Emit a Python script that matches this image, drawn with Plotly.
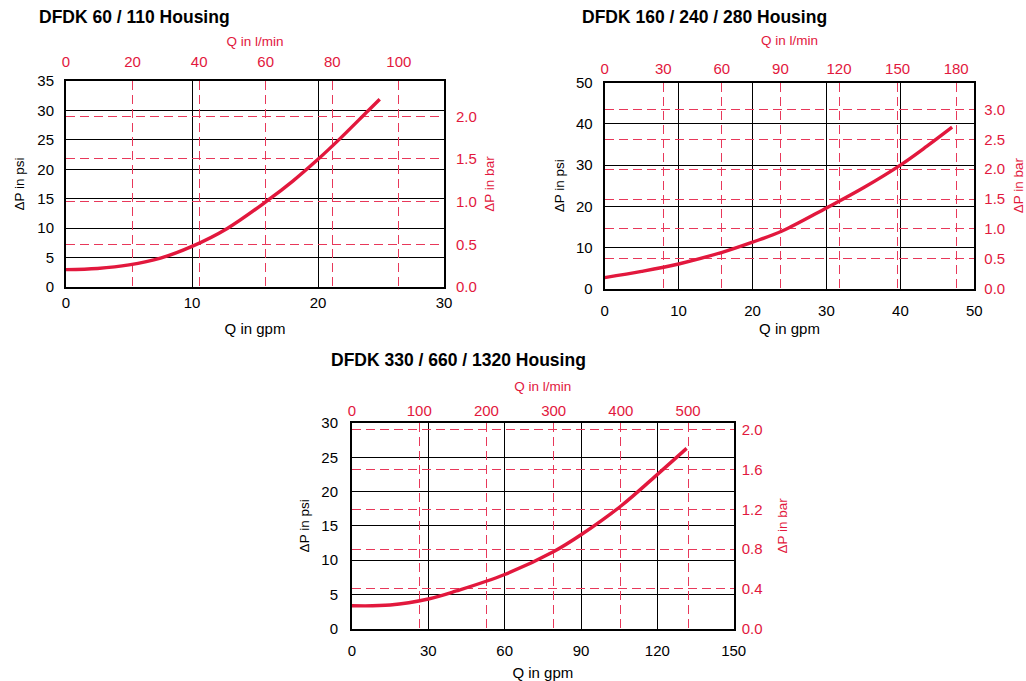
import plotly.graph_objects as go

# ---------------- data ----------------
GPM_TO_LPM = 3.78541
PSI_TO_BAR = 0.0689476

TITLES = ["DFDK 60 / 110 Housing", "DFDK 160 / 240 / 280 Housing", "DFDK 330 / 660 / 1320 Housing"]

# Chart 1: DFDK 60 / 110
GPM_1 = [0, 2.5, 5, 7.5, 10, 12.8, 16, 18, 20, 21.5, 24, 24.9]
PSI_1 = [2.95, 3.15, 3.75, 4.9, 6.9, 9.95, 14.7, 18.0, 21.7, 24.7, 30.0, 31.9]
GPM_TICKS_1 = [0, 10, 20, 30]
PSI_TICKS_1 = [0, 5, 10, 15, 20, 25, 30, 35]
LPM_TICKS_1 = [0, 20, 40, 60, 80, 100]
BAR_TICKS_1 = [0.0, 0.5, 1.0, 1.5, 2.0]

# Chart 2: DFDK 160 / 240 / 280
GPM_2 = [0, 5, 10, 16, 20, 24, 30, 35, 40, 43.6, 47]
PSI_2 = [2.7, 4.2, 6.0, 8.9, 11.3, 14.0, 19.6, 24.5, 30.0, 34.6, 39.2]
GPM_TICKS_2 = [0, 10, 20, 30, 40, 50]
PSI_TICKS_2 = [0, 10, 20, 30, 40, 50]
LPM_TICKS_2 = [0, 30, 60, 90, 120, 150, 180]
BAR_TICKS_2 = [0.0, 0.5, 1.0, 1.5, 2.0, 2.5, 3.0]

# Chart 3: DFDK 330 / 660 / 1320
GPM_3 = [0, 15, 30, 41, 60, 79.5, 90, 105.7, 119.7, 131.5]
PSI_3 = [3.35, 3.45, 4.33, 5.5, 7.9, 11.3, 13.7, 17.9, 22.4, 26.3]
GPM_TICKS_3 = [0, 30, 60, 90, 120, 150]
PSI_TICKS_3 = [0, 5, 10, 15, 20, 25, 30]
LPM_TICKS_3 = [0, 100, 200, 300, 400, 500]
BAR_TICKS_3 = [0.0, 0.4, 0.8, 1.2, 1.6, 2.0]

# ---------------- style ----------------
W, H = 1026, 681
RED = "#E2183D"
GRID_RED = "#E8385A"
BLACK = "#000000"
FONT = "Liberation Sans, Arial, Helvetica, sans-serif"

def px(x):
    return x / W

def py(y):
    return 1 - y / H

panels = [
    dict(gpm=GPM_1, psi=PSI_1, gt=GPM_TICKS_1, pt=PSI_TICKS_1, lt=LPM_TICKS_1, bt=BAR_TICKS_1,
         title=TITLES[0], box=(66, 444, 81, 287), tpos=(37, 17),
         std=dict(b=1, l=7, t=6, r=7), tst=dict(b=13, l=10, t=3, r=9)),
    dict(gpm=GPM_2, psi=PSI_2, gt=GPM_TICKS_2, pt=PSI_TICKS_2, lt=LPM_TICKS_2, bt=BAR_TICKS_2,
         title=TITLES[1], box=(604.7, 974.3, 82.7, 288.7), tpos=(580, 17),
         std=dict(b=7, l=7, t=1, r=5), tst=dict(b=6, l=8, t=11, r=12)),
    dict(gpm=GPM_3, psi=PSI_3, gt=GPM_TICKS_3, pt=PSI_TICKS_3, lt=LPM_TICKS_3, bt=BAR_TICKS_3,
         title=TITLES[2], box=(352, 733.7, 423, 628.7), tpos=(329, 360),
         std=dict(b=7, l=9, t=-1, r=3), tst=dict(b=11, l=9, t=7, r=16)),
]

fig = go.Figure()
layout = dict(
    width=W, height=H, margin=dict(l=0, r=0, t=0, b=0, autoexpand=False),
    paper_bgcolor="white", plot_bgcolor="white", showlegend=False,
    font=dict(family=FONT, color=BLACK),
    annotations=[],
)

for i, p in enumerate(panels):
    k = 2 * i + 1
    k2 = k + 1
    xs = "" if k == 1 else str(k)
    x1, x2, y1, y2 = p["box"]
    xmax = p["gt"][-1]
    ymax = p["pt"][-1]

    fig.add_trace(go.Scatter(
        x=p["gpm"], y=p["psi"], mode="lines",
        line=dict(color=RED, width=3.4, shape="spline", smoothing=1.0),
        xaxis="x" + xs, yaxis="y" + xs, hoverinfo="skip"))
    fig.add_trace(go.Scatter(
        x=[g * GPM_TO_LPM for g in p["gpm"]], y=[v * PSI_TO_BAR for v in p["psi"]],
        mode="lines", line=dict(color="rgba(0,0,0,0)", width=0), opacity=0,
        xaxis="x" + str(k2), yaxis="y" + str(k2), hoverinfo="skip"))

    common = dict(showline=True, linecolor=BLACK, linewidth=2, zeroline=False,
                  ticks="", fixedrange=True, tickmode="array", automargin=False)

    layout["xaxis" + xs] = dict(
        common, domain=[px(x1), px(x2)], anchor="y" + xs, range=[0, xmax],
        tickvals=p["gt"], showgrid=True, gridcolor=BLACK, gridwidth=1,
        tickfont=dict(size=15, color=BLACK), ticklabelstandoff=p["std"]["b"],
        title=dict(text="Q in gpm", font=dict(size=15, color=BLACK), standoff=p["tst"]["b"]))
    layout["yaxis" + xs] = dict(
        common, domain=[py(y2), py(y1)], anchor="x" + xs, range=[0, ymax],
        tickvals=p["pt"], showgrid=True, gridcolor=BLACK, gridwidth=1,
        tickfont=dict(size=15, color=BLACK), ticklabelstandoff=p["std"]["l"],
        title=dict(text="ΔP in psi", font=dict(size=13.5, color=BLACK), standoff=p["tst"]["l"]))
    layout["xaxis" + str(k2)] = dict(
        common, overlaying="x" + xs, side="top", anchor="y" + str(k2),
        range=[0, xmax * GPM_TO_LPM], tickvals=p["lt"],
        showgrid=True, gridcolor=GRID_RED, gridwidth=1.2, griddash="9px,5px",
        tickfont=dict(size=15, color=RED), ticklabelstandoff=p["std"]["t"],
        title=dict(text="Q in l/min", font=dict(size=13.5, color=RED), standoff=p["tst"]["t"]))
    layout["yaxis" + str(k2)] = dict(
        common, overlaying="y" + xs, side="right", anchor="x" + str(k2),
        range=[0, ymax * PSI_TO_BAR], tickvals=p["bt"],
        ticktext=["%.1f" % b for b in p["bt"]],
        showgrid=True, gridcolor=GRID_RED, gridwidth=1.2, griddash="9px,5px",
        tickfont=dict(size=15, color=RED), ticklabelstandoff=p["std"]["r"],
        title=dict(text="ΔP in bar", font=dict(size=13.5, color=RED), standoff=p["tst"]["r"]))

    layout["annotations"].append(dict(
        text="<b>" + p["title"] + "</b>", xref="paper", yref="paper",
        x=px(p["tpos"][0]), y=py(p["tpos"][1]), xanchor="left", yanchor="middle",
        showarrow=False, font=dict(size=17.5, color=BLACK, family=FONT)))

fig.update_layout(**layout)
fig.write_html(
    "out.html",
    config={"displayModeBar": False, "staticPlot": False},
    post_script="document.body.style.margin='0';document.body.style.overflow='hidden';",
)
